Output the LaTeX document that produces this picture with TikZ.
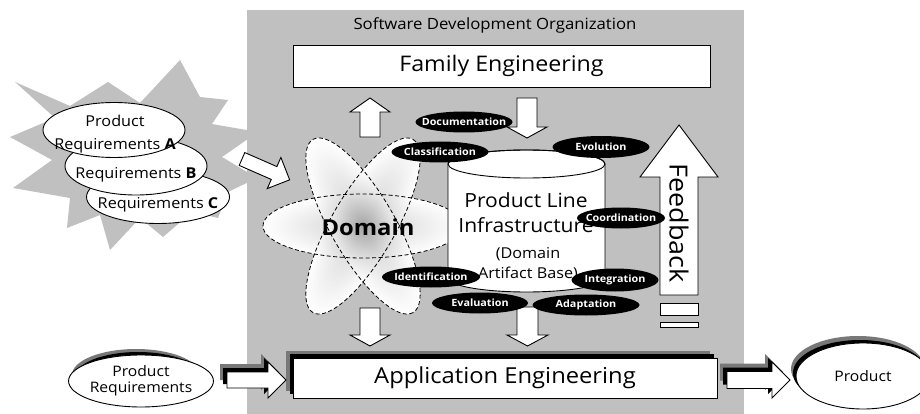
\documentclass[tikz,border=0pt]{standalone}
\usepackage{fontspec}
\setmainfont{Open Sans}[FakeStretch=1.08]
\usetikzlibrary{shapes.geometric}

\definecolor{bggray}{RGB}{192,192,192}
\definecolor{shgray}{RGB}{120,120,120}

% block arrow: [style]{tail point}{angle}{length}{shaft half width}{head half width}{head length}
\newcommand{\blkarrow}[7][]{%
  \draw[#1,shift={#2},rotate=#3] (0,-#5) -- ({#4-#7},-#5) -- ({#4-#7},-#6) -- (#4,0)
    -- ({#4-#7},#6) -- ({#4-#7},#5) -- (0,#5) -- cycle;}
\newcommand{\fsz}[2]{\fontsize{#1}{#2}\selectfont}
% black activity ellipse of fixed size: {name}{position}{width}{height}{text}
\newcommand{\activity}[5]{%
  \node[tag,minimum width=#3,minimum height=#4] (#1) at #2 {\makebox[0pt]{#5}};}

\begin{document}
\begin{tikzpicture}[x=1pt,y=-1pt,line width=0.9pt,
  box/.style={draw,fill=white,rectangle,inner sep=0},
  oval/.style={ellipse,draw,fill=white,inner sep=0},
  tag/.style={ellipse,fill=black,text=white,inner sep=0,font=\bfseries\fsz{10}{12}},
  plain/.style={inner sep=0},
  domline/.style={dash pattern=on 4pt off 2.5pt,line width=0.8pt},
  arr/.style={draw,fill=white}]

\useasboundingbox (0,0) rectangle (920,414);

% organization area
\fill[bggray] (247,10) rectangle (744,414);
\node[plain,font=\fsz{15.5}{18}] (org) at (495,25) {Software Development Organization};
\node[box,minimum width=417,minimum height=42,font=\fsz{21.5}{24}] (fam) at (501.5,66) {Family Engineering};

% incoming requirements burst
\fill[bggray] (108,82) -- (140,103) -- (180,60) -- (200,97) -- (228,100) -- (212,124)
  -- (258,132) -- (222,157) -- (257,178) -- (228,192) -- (218,218) -- (192,212)
  -- (163,237) -- (140,218) -- (110,250) -- (100,215) -- (67,228) -- (70,198)
  -- (13,188) -- (52,160) -- (10,137) -- (55,118) -- (15,82) -- (70,106) -- cycle;
\node[oval,minimum width=143,minimum height=53] (reqC) at (158,197) {};
\node[oval,minimum width=142,minimum height=58] (reqB) at (136,166) {};
\node[oval,minimum width=142,minimum height=55] (reqA) at (114,130) {};
\node[plain,align=center,font=\fsz{15}{23}] (reqAt) at (115,134) {Product\\Requirements \textbf{A}};
\node[plain,font=\fsz{15}{17}] (reqBt) at (136,175) {Requirements \textbf{B}};
\node[plain,font=\fsz{15}{17}] (reqCt) at (158,205) {Requirements \textbf{C}};
\blkarrow[arr]{(242,159)}{-23.6}{52}{7}{17}{17}

% domain
\coordinate (dc) at (363,226);
\foreach \a in {0,60,-60}{
  \begin{scope}[transform canvas={rotate around={\a:(dc)}}]
    \fill[white] (dc) ellipse [x radius=100,y radius=32];
  \end{scope}}
\foreach \a in {0,60,-60}{
  \begin{scope}[transform canvas={rotate around={\a:(dc)}}]
    \shade[inner color=gray!90,outer color=white,opacity=0.4] (dc) ellipse [x radius=100,y radius=32];
  \end{scope}}
\foreach \a in {0,60,-60}{
  \begin{scope}[transform canvas={rotate around={\a:(dc)}}]
    \draw[domline] (dc) ellipse [x radius=100,y radius=32];
  \end{scope}}
\node[plain,font=\bfseries\fsz{22}{24}] (dom) at (368,227) {Domain};

% product line infrastructure (cylinder)
\draw[fill=white] (448,164) -- (448,278) arc[start angle=180,end angle=0,x radius=78.5,y radius=14]
  -- (605,164) arc[start angle=0,end angle=-180,x radius=78.5,y radius=14] -- cycle;
\draw (526.5,164) ellipse [x radius=78.5,y radius=14];
\node[plain,align=center,font=\fsz{19.5}{25}] (pli) at (526,213) {Product Line\\Infrastructure};
\node[plain,align=center,font=\fsz{15}{20}] (dab) at (528,264) {(Domain\\Artifact Base)};

% vertical flow arrows
\blkarrow[arr]{(370,137)}{90}{39}{10}{20}{14}
\blkarrow[arr]{(527,98)}{-90}{40}{10}{20}{11}
\blkarrow[arr]{(370,308)}{-90}{38}{10}{20}{11}
\blkarrow[arr]{(527.5,307)}{-90}{39}{10.5}{20.5}{11}

% feedback
\blkarrow[arr]{(679,295)}{90}{170}{19}{39}{52}
\node[box,minimum width=38,minimum height=12] (fb1) at (679,309) {};
\node[box,minimum width=38,minimum height=5] (fb2) at (679,324.5) {};

% activities
\activity{doc}{(464,122)}{97}{21}{Documentation}
\activity{cla}{(440,152)}{97}{21}{Classification}
\activity{evo}{(601,147)}{97}{22}{Evolution}
\activity{coo}{(621,218)}{88}{21}{Coordination}
\activity{ide}{(431,277)}{98}{21}{Identification}
\activity{int}{(615,280)}{87}{23}{Integration}
\activity{eva}{(480,303)}{96}{21}{Evaluation}
\activity{ada}{(586,305)}{107}{21}{Adaptation}

\node[plain,rotate=-90,font=\fsz{25}{27}] (fbt) at (679,223) {Feedback};

% application engineering with shadow
\node[box,minimum width=424,minimum height=40] (app) at (505,378) {};
\fill[shgray] ([shift={(-7,-7)}]app.north west) rectangle ([shift={(-7,-7)}]app.south east);
\fill[black] ([shift={(-3,-4)}]app.north west) rectangle ([shift={(-3,-4)}]app.south east);
\node[box,minimum width=424,minimum height=40,font=\fsz{22}{24}] (appb) at (505,378) {Application Engineering};

% product requirements in
\fill[shgray] (136,375) ellipse [x radius=64,y radius=26];
\fill[black] (138,378) ellipse [x radius=64,y radius=26];
\node[oval,minimum width=128,minimum height=52,align=center,font=\fsz{14.5}{16}] (preq) at (141,381) {Product\\Requirements};
\blkarrow[fill=shgray,draw=none,shift={(-7,-8)}]{(227,380)}{0}{59}{8}{18}{18}
\blkarrow[fill=black,draw=none,shift={(-4,-4)}]{(227,380)}{0}{59}{8}{18}{18}
\blkarrow[arr]{(227,380)}{0}{59}{8}{18}{18}

% product out
\blkarrow[fill=shgray,draw=none,shift={(-7,-8)}]{(727,380)}{0}{63}{8.5}{18}{18}
\blkarrow[fill=black,draw=none,shift={(-4,-4)}]{(727,380)}{0}{63}{8.5}{18}{18}
\blkarrow[arr]{(727,380)}{0}{63}{8.5}{18}{18}
\fill[shgray] (858,369) ellipse [x radius=67,y radius=33];
\fill[black] (860,373) ellipse [x radius=67,y radius=33];
\node[oval,minimum width=134,minimum height=66,font=\fsz{14.5}{16}] (prod) at (863,376) {Product};
\end{tikzpicture}
\end{document}
